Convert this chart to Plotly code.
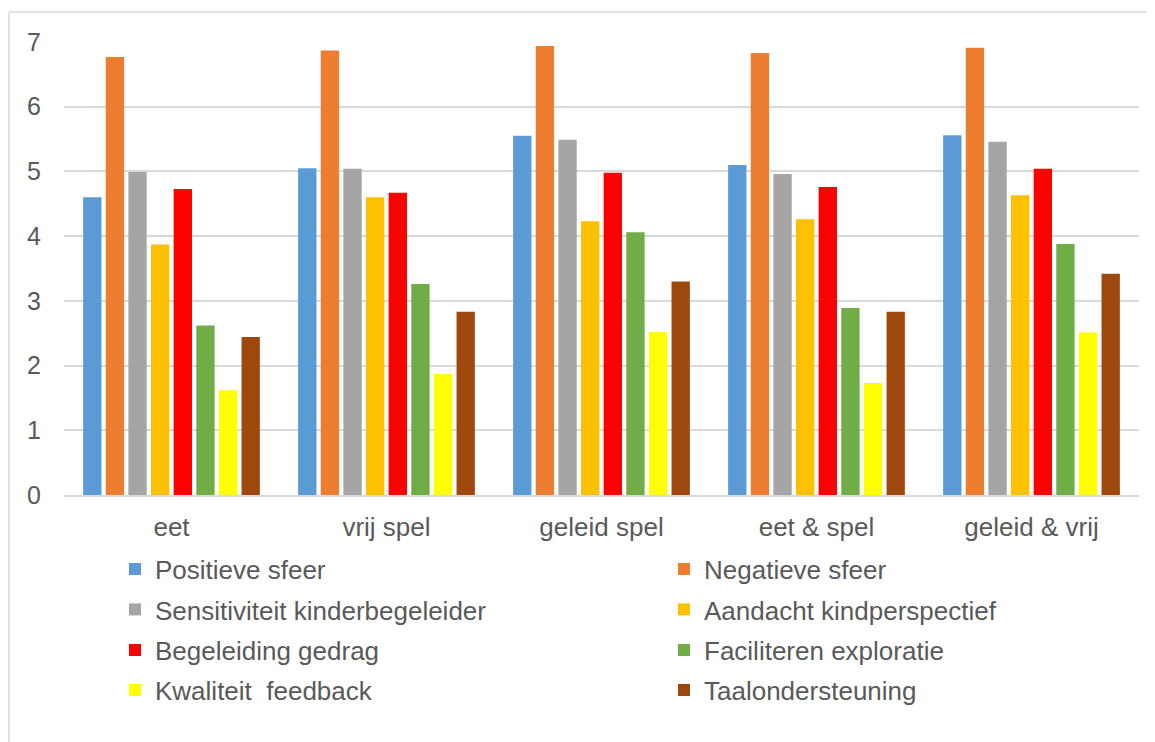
import plotly.graph_objects as go

categories = ["eet", "vrij spel", "geleid spel", "eet & spel", "geleid & vrij"]

series_names = [
    "Positieve sfeer",
    "Negatieve sfeer",
    "Sensitiviteit kinderbegeleider",
    "Aandacht kindperspectief",
    "Begeleiding gedrag",
    "Faciliteren exploratie",
    "Kwaliteit  feedback",
    "Taalondersteuning",
]

positieve_sfeer = [4.60, 5.05, 5.55, 5.10, 5.56]
negatieve_sfeer = [6.77, 6.87, 6.94, 6.83, 6.91]
sensitiviteit = [4.99, 5.04, 5.49, 4.96, 5.46]
aandacht = [3.87, 4.60, 4.23, 4.26, 4.63]
begeleiding = [4.73, 4.67, 4.98, 4.76, 5.04]
faciliteren = [2.62, 3.26, 4.06, 2.89, 3.88]
kwaliteit = [1.62, 1.87, 2.52, 1.73, 2.51]
taal = [2.44, 2.83, 3.30, 2.83, 3.42]

series_values = [positieve_sfeer, negatieve_sfeer, sensitiviteit, aandacht,
                 begeleiding, faciliteren, kwaliteit, taal]

colors = ["#5B9BD5", "#ED7D31", "#A5A5A5", "#FFC000",
          "#FF0000", "#70AD47", "#FFFF00", "#9E480E"]

y_ticks = [0, 1, 2, 3, 4, 5, 6, 7]

OFF = 8  # page body margin
W, H = 1155 - OFF, 742 - OFF
FONT = "Liberation Sans, Arial, sans-serif"
TXT = "#595959"

fig = go.Figure()
legend_ids = ["legend"] + [f"legend{i}" for i in range(2, 9)]
for name, vals, col, lid in zip(series_names, series_values, colors, legend_ids):
    fig.add_trace(go.Bar(x=categories, y=vals, name=name,
                         marker=dict(color=col, line=dict(width=0)),
                         legend=lid))

# legend placement (page pixels -> container fractions)
col_x = [134, 683]
row_y = [569, 609.5, 650, 690]
legend_layout = {}
for i, lid in enumerate(legend_ids):
    cx = col_x[i % 2] - 19 - OFF
    cy = row_y[i // 2] - OFF
    legend_layout[lid] = dict(
        xref="container", yref="container",
        x=cx / W, y=1 - cy / H,
        xanchor="left", yanchor="middle",
        orientation="v",
        font=dict(family=FONT, size=26, color=TXT),
        bgcolor="rgba(0,0,0,0)", borderwidth=0,
        itemclick=False, itemdoubleclick=False,
    )

# outer chart border (top and left only visible)
px = lambda v: (v - 64) / 1075
py = lambda v: (495 - v) / 453
shapes = [
    dict(type="line", xref="paper", yref="paper", x0=px(9), x1=px(1170),
         y0=py(12), y1=py(12), line=dict(color="#d9d9d9", width=1.5), layer="below"),
    dict(type="line", xref="paper", yref="paper", x0=px(9), x1=px(9),
         y0=py(12), y1=py(770), line=dict(color="#d9d9d9", width=1.5), layer="below"),
]

fig.update_layout(
    width=W, height=H,
    margin=dict(l=64 - OFF, r=W - (1139 - OFF), t=42 - OFF, b=H - (495 - OFF),
                autoexpand=False),
    paper_bgcolor="white", plot_bgcolor="white",
    barmode="group", bargap=0.158, bargroupgap=0.19,
    font=dict(family=FONT, size=26, color=TXT),
    shapes=shapes,
    showlegend=True,
    **legend_layout,
)
fig.update_xaxes(showline=True, linecolor="#d9d9d9", linewidth=1.5,
                 showgrid=False, ticks="", tickangle=0,
                 tickfont=dict(family=FONT, size=26, color=TXT),
                 ticklabelstandoff=8)
fig.update_yaxes(range=[0, 7], tickvals=y_ticks, showgrid=True,
                 gridcolor="#d9d9d9", gridwidth=1.5, zeroline=False,
                 showline=False, ticks="",
                 tickfont=dict(family=FONT, size=25, color=TXT),
                 ticklabelstandoff=22)

fig.write_html("out.html")
